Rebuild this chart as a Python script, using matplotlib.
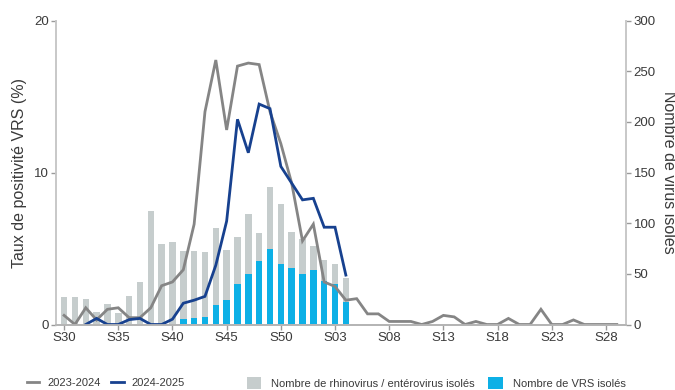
import numpy as np
import matplotlib
matplotlib.use("Agg")
import matplotlib.pyplot as plt
from matplotlib.lines import Line2D
from matplotlib.patches import Patch

plt.rcParams['font.family'] = ['Liberation Sans', 'DejaVu Sans']

# Semaines épidémiologiques S30 -> S29
weeks = [f"S{w:02d}" for w in range(30, 53)] + [f"S{w:02d}" for w in range(1, 30)]

# Taux de positivité VRS (%)
rate_2023_2024 = [0.6, 0.0, 1.1, 0.3, 1.0, 1.1, 0.45, 0.45, 1.1, 2.55,
                  2.8, 3.6, 6.6, 14.0, 17.4, 12.8, 17.0, 17.2, 17.1, 14.0,
                  11.9, 9.3, 5.5, 6.6, 2.8, 2.5, 1.6, 1.7, 0.7, 0.7,
                  0.2, 0.2, 0.2, 0.0, 0.2, 0.6, 0.5, 0.0, 0.2, 0.0,
                  0.0, 0.4, 0.0, 0.0, 1.0, 0.0, 0.0, 0.3, 0.0, 0.0,
                  0.0, 0.0]
rate_2024_2025 = [np.nan, np.nan, 0.0, 0.4, 0.0, 0.0, 0.32, 0.4, 0.0, 0.0,
                  0.35, 1.4, 1.6, 1.85, 3.9, 6.8, 13.5, 11.3, 14.5, 14.2,
                  10.4, 9.3, 8.2, 8.3, 6.4, 6.4, 3.25]

# Nombre de virus isolés (saison 2024-2025)
vrs_isolated = [0, 0, 0, 0, 0, 0, 0, 0, 0, 0,
                0, 5, 6, 7, 19, 24, 40, 50, 63, 75,
                60, 56, 50, 54, 43, 40, 22]
rhino_entero_isolated = [27, 27, 25, 12, 20, 11, 28, 42, 112, 79,
                         81, 68, 67, 65, 76, 50, 46, 59, 27, 61,
                         59, 35, 34, 23, 21, 20, 24]

c_gray_line = "#858585"
c_blue_line = "#17418f"
c_gray_bar = "#c6cdcd"
c_blue_bar = "#0db0e6"
c_spine = "#c9c9c9"
c_text = "#3a3a3a"

fig = plt.figure(figsize=(6.75, 3.9), dpi=100)
ax = fig.add_axes([56.5 / 675, 1 - 324.5 / 390, (626 - 56.5) / 675, (324.5 - 20.5) / 390])
ax2 = ax.twinx()

x_all = np.arange(len(weeks))
x_bars = np.arange(len(vrs_isolated))

# Barres empilées sur l'axe droit
ax2.bar(x_bars, vrs_isolated, width=0.6, color=c_blue_bar, zorder=1)
ax2.bar(x_bars, rhino_entero_isolated, width=0.6, bottom=vrs_isolated,
        color=c_gray_bar, zorder=1)

# Courbes de positivité au premier plan
ax.set_zorder(ax2.get_zorder() + 1)
ax.patch.set_visible(False)
ax.plot(x_all, rate_2023_2024, color=c_gray_line, lw=2.0, solid_joinstyle='miter')
ax.plot(np.arange(len(rate_2024_2025)), rate_2024_2025, color=c_blue_line, lw=2.0,
        solid_joinstyle='miter')

ax.set_xlim(-0.7, 51.85)
ax.set_ylim(0, 20)
ax2.set_ylim(0, 300)

tick_idx = list(range(0, len(weeks), 5))
ax.set_xticks(tick_idx)
ax.set_xticklabels([weeks[i] for i in tick_idx])
ax.set_yticks([0, 10, 20])
ax2.set_yticks([0, 50, 100, 150, 200, 250, 300])

for a in (ax, ax2):
    a.spines["top"].set_visible(False)
    a.spines["left"].set_color(c_spine)
    a.spines["right"].set_color(c_spine)
    a.spines["bottom"].set_color("#b5b5b5")
    for s in ("left", "right", "bottom"):
        a.spines[s].set_linewidth(1.3)
    a.tick_params(colors="#9a9a9a", labelcolor=c_text, labelsize=9.5, length=3.5, width=1,
                  pad=2)

ax.set_ylabel("Taux de positivité VRS (%)", fontsize=11.5, color=c_text, labelpad=5)
ax2.set_ylabel("Nombre de virus isolés", fontsize=11.5, color=c_text, rotation=270,
               va="bottom", labelpad=4)

# Légende en deux blocs : courbes puis barres
line_handles = [Line2D([], [], color=c_gray_line, lw=2),
                Line2D([], [], color=c_blue_line, lw=2)]
line_labels = ["2023-2024", "2024-2025"]
bar_handles = [Patch(facecolor=c_gray_bar, edgecolor="none"),
               Patch(facecolor=c_blue_bar, edgecolor="none")]
bar_labels = ["Nombre de rhinovirus / entérovirus isolés", "Nombre de VRS isolés"]

leg_y = 1 - 383 / 390
leg1 = fig.legend(line_handles, line_labels, loc="center left",
                  bbox_to_anchor=(27 / 675, leg_y), ncol=2, frameon=False, fontsize=8,
                  handlelength=1.1, handletextpad=0.7, columnspacing=1.0,
                  labelcolor=c_text, borderpad=0, borderaxespad=0)
leg2 = fig.legend(bar_handles, bar_labels, loc="center left",
                  bbox_to_anchor=(247 / 675, leg_y), ncol=2, frameon=False, fontsize=8,
                  handlelength=1.3, handleheight=1.2, handletextpad=0.9, columnspacing=1.2,
                  labelcolor=c_text, borderpad=0, borderaxespad=0)

fig.savefig("out.png", dpi=100)
